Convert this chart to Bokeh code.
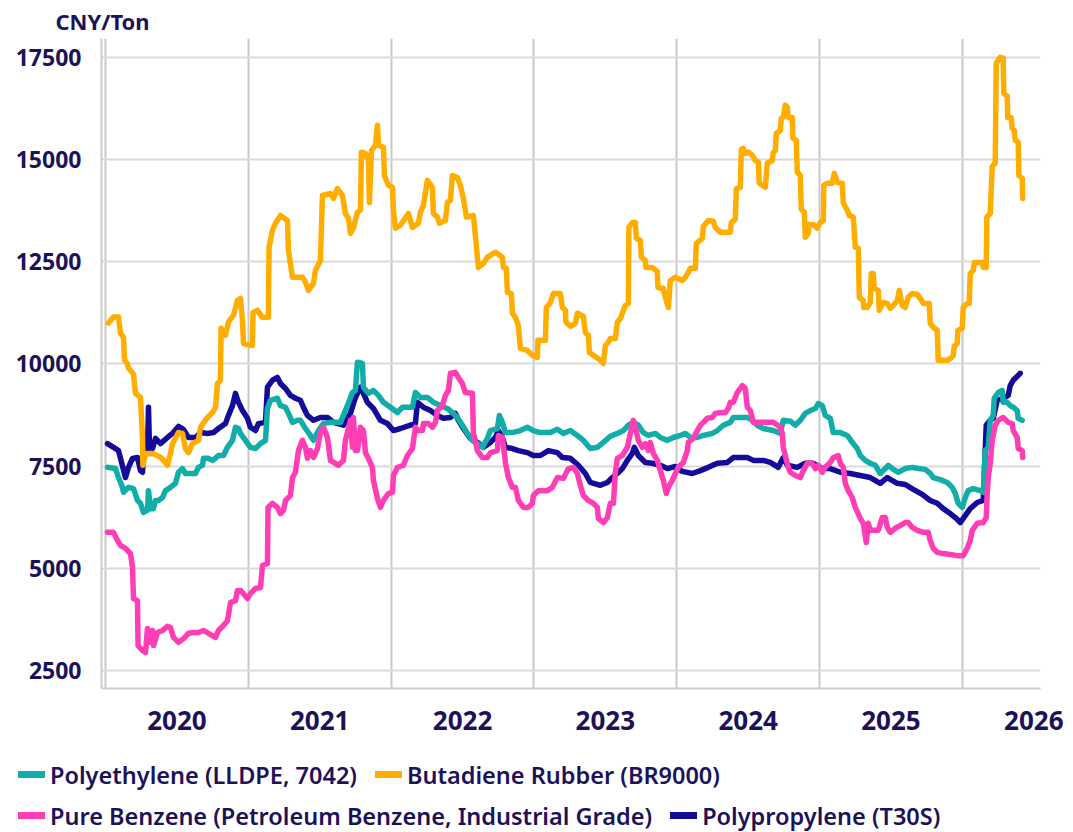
from bokeh.plotting import figure
from bokeh.layouts import column
from bokeh.models import (FixedTicker, PrintfTickFormatter, Range1d, Div)
from bokeh.embed import file_html
from bokeh.resources import INLINE

# ---------------- data (decimal year, CNY/Ton) ----------------
pe_t = [2019.514, 2019.570, 2019.591, 2019.619, 2019.626, 2019.661, 2019.696, 2019.724, 2019.745, 2019.766,
        2019.794, 2019.801, 2019.815, 2019.836, 2019.850, 2019.871, 2019.899, 2019.920, 2019.955, 2019.990,
        2020.011, 2020.039, 2020.060, 2020.130, 2020.151, 2020.179, 2020.186, 2020.221, 2020.249, 2020.270,
        2020.291, 2020.326, 2020.354, 2020.389, 2020.410, 2020.431, 2020.445, 2020.480, 2020.515, 2020.550,
        2020.585, 2020.620, 2020.634, 2020.655, 2020.704, 2020.725, 2020.760, 2020.781, 2020.809, 2020.844,
        2020.865, 2020.900, 2020.935, 2020.956, 2020.991, 2021.026, 2021.075, 2021.145, 2021.194, 2021.229,
        2021.250, 2021.264, 2021.299, 2021.306, 2021.341, 2021.376, 2021.411, 2021.446, 2021.495, 2021.544,
        2021.579, 2021.649, 2021.670, 2021.705, 2021.754, 2021.796, 2021.845, 2021.894, 2021.929, 2021.964,
        2021.999, 2022.034, 2022.069, 2022.104, 2022.139, 2022.174, 2022.195, 2022.244, 2022.258, 2022.279,
        2022.300, 2022.349, 2022.405, 2022.454, 2022.496, 2022.545, 2022.615, 2022.664, 2022.706, 2022.755,
        2022.804, 2022.846, 2022.895, 2022.944, 2022.986, 2023.035, 2023.084, 2023.126, 2023.161, 2023.196,
        2023.231, 2023.266, 2023.301, 2023.350, 2023.385, 2023.434, 2023.476, 2023.525, 2023.560, 2023.595,
        2023.644, 2023.686, 2023.749, 2023.784, 2023.826, 2023.875, 2023.896, 2023.994, 2024.029, 2024.064,
        2024.106, 2024.176, 2024.225, 2024.246, 2024.295, 2024.330, 2024.365, 2024.400, 2024.435, 2024.470,
        2024.491, 2024.519, 2024.540, 2024.575, 2024.596, 2024.645, 2024.694, 2024.729, 2024.764, 2024.785,
        2024.820, 2024.855, 2024.890, 2024.925, 2024.960, 2024.981, 2025.016, 2025.051, 2025.100, 2025.149,
        2025.191, 2025.240, 2025.275, 2025.296, 2025.345, 2025.394, 2025.429, 2025.450, 2025.471, 2025.499,
        2025.520, 2025.541, 2025.576, 2025.625, 2025.646, 2025.660, 2025.681, 2025.695, 2025.716, 2025.723,
        2025.751, 2025.779, 2025.786, 2025.814, 2025.835, 2025.856, 2025.884, 2025.891, 2025.919]
pe_v = [7470, 7440, 7220, 6980, 6860, 6980, 6950, 6660, 6590, 6370,
        6420, 6900, 6460, 6460, 6660, 6660, 6730, 6900, 6980, 7080,
        7350, 7440, 7320, 7320, 7470, 7520, 7690, 7690, 7640, 7690,
        7760, 7760, 7960, 8130, 8450, 8420, 8300, 8130, 7960, 7930,
        8050, 8130, 8910, 9110, 9160, 8980, 8940, 8790, 8570, 8620,
        8620, 8420, 8250, 8130, 8370, 8540, 8570, 8570, 8980, 9300,
        9350, 10040, 10010, 9430, 9280, 9350, 9230, 9060, 8940, 8810,
        8940, 8940, 9300, 9180, 9180, 9060, 8980, 8910, 8810, 8690,
        8500, 8300, 8130, 8050, 7960, 8180, 8370, 8420, 8740, 8570,
        8320, 8320, 8370, 8450, 8370, 8320, 8320, 8400, 8300, 8370,
        8250, 8130, 7930, 7960, 8080, 8230, 8300, 8370, 8500, 8570,
        8500, 8320, 8250, 8300, 8200, 8130, 8200, 8250, 8300, 8200,
        8200, 8250, 8300, 8370, 8500, 8570, 8690, 8690, 8620, 8500,
        8420, 8370, 8300, 8620, 8600, 8500, 8620, 8790, 8860, 8910,
        9030, 8980, 8740, 8670, 8320, 8320, 8250, 8080, 7930, 7760,
        7640, 7570, 7520, 7320, 7440, 7520, 7420, 7350, 7440, 7470,
        7440, 7420, 7320, 7220, 7170, 7100, 6980, 6830, 6590, 6490,
        6730, 6900, 6950, 6900, 6860, 7880, 7960, 8620, 8740, 9160,
        9300, 9350, 9060, 9060, 8980, 8940, 8860, 8670, 8620]

br_t = [2019.521, 2019.556, 2019.591, 2019.605, 2019.626, 2019.633, 2019.654, 2019.661, 2019.696, 2019.710,
        2019.745, 2019.759, 2019.762, 2019.780, 2019.836, 2019.885, 2019.906, 2019.934, 2019.955, 2019.969,
        2020.011, 2020.039, 2020.060, 2020.081, 2020.109, 2020.151, 2020.165, 2020.214, 2020.249, 2020.270,
        2020.284, 2020.305, 2020.309, 2020.340, 2020.361, 2020.396, 2020.424, 2020.445, 2020.459, 2020.466,
        2020.529, 2020.533, 2020.564, 2020.599, 2020.641, 2020.645, 2020.669, 2020.690, 2020.725, 2020.774,
        2020.781, 2020.809, 2020.879, 2020.900, 2020.921, 2020.956, 2020.970, 2021.005, 2021.019, 2021.075,
        2021.096, 2021.124, 2021.159, 2021.180, 2021.201, 2021.215, 2021.236, 2021.264, 2021.285, 2021.292,
        2021.320, 2021.341, 2021.348, 2021.362, 2021.390, 2021.404, 2021.411, 2021.446, 2021.453, 2021.481,
        2021.509, 2021.516, 2021.530, 2021.565, 2021.621, 2021.649, 2021.691, 2021.705, 2021.726, 2021.754,
        2021.789, 2021.796, 2021.824, 2021.838, 2021.880, 2021.894, 2021.915, 2021.929, 2021.964, 2021.985,
        2022.006, 2022.027, 2022.076, 2022.090, 2022.111, 2022.146, 2022.174, 2022.230, 2022.279, 2022.286,
        2022.307, 2022.314, 2022.342, 2022.349, 2022.370, 2022.391, 2022.405, 2022.454, 2022.489, 2022.524,
        2022.528, 2022.580, 2022.587, 2022.615, 2022.636, 2022.685, 2022.699, 2022.720, 2022.724, 2022.755,
        2022.790, 2022.804, 2022.846, 2022.860, 2022.881, 2022.888, 2022.916, 2022.965, 2022.986, 2023.000,
        2023.021, 2023.035, 2023.070, 2023.084, 2023.105, 2023.119, 2023.140, 2023.161, 2023.165, 2023.189,
        2023.210, 2023.217, 2023.245, 2023.252, 2023.280, 2023.284, 2023.329, 2023.364, 2023.368, 2023.406,
        2023.420, 2023.441, 2023.455, 2023.490, 2023.539, 2023.560, 2023.581, 2023.595, 2023.630, 2023.637,
        2023.679, 2023.686, 2023.721, 2023.756, 2023.770, 2023.805, 2023.875, 2023.882, 2023.910, 2023.917,
        2023.945, 2023.952, 2023.966, 2023.980, 2024.001, 2024.029, 2024.050, 2024.071, 2024.078, 2024.120,
        2024.134, 2024.169, 2024.176, 2024.190, 2024.197, 2024.225, 2024.232, 2024.246, 2024.260, 2024.274,
        2024.281, 2024.309, 2024.313, 2024.337, 2024.344, 2024.365, 2024.372, 2024.393, 2024.400, 2024.421,
        2024.425, 2024.456, 2024.484, 2024.505, 2024.526, 2024.530, 2024.554, 2024.589, 2024.603, 2024.624,
        2024.659, 2024.666, 2024.694, 2024.708, 2024.736, 2024.750, 2024.771, 2024.778, 2024.806, 2024.810,
        2024.834, 2024.855, 2024.862, 2024.876, 2024.883, 2024.911, 2024.918, 2024.946, 2024.974, 2024.995,
        2025.016, 2025.044, 2025.058, 2025.079, 2025.100, 2025.121, 2025.149, 2025.184, 2025.205, 2025.226,
        2025.268, 2025.275, 2025.303, 2025.324, 2025.331, 2025.394, 2025.415, 2025.436, 2025.443, 2025.464,
        2025.468, 2025.499, 2025.506, 2025.534, 2025.548, 2025.555, 2025.576, 2025.583, 2025.639, 2025.646,
        2025.667, 2025.671, 2025.695, 2025.709, 2025.730, 2025.737, 2025.751, 2025.765, 2025.786, 2025.790,
        2025.814, 2025.818, 2025.842, 2025.849, 2025.863, 2025.870, 2025.891, 2025.895, 2025.919, 2025.922]
br_v = [11000, 11150, 11150, 10750, 10650, 10100, 10000, 9900, 9750, 9280,
        9180, 8200, 7520, 7810, 7800, 7720, 7640, 7520, 7810, 8050,
        8320, 8300, 7930, 7830, 8050, 8130, 8450, 8690, 8810, 8940,
        9520, 9600, 10870, 10700, 11020, 11190, 11550, 11600, 11060, 10500,
        10450, 11260, 11310, 11140, 11140, 12850, 13270, 13440, 13630, 13510,
        12780, 12120, 12120, 12000, 11800, 11970, 12290, 12530, 14120, 14170,
        14050, 14290, 14120, 13680, 13560, 13190, 13320, 13710, 13760, 15180,
        15150, 14980, 13950, 15220, 15340, 15840, 15350, 15300, 14610, 14370,
        14320, 13760, 13320, 13390, 13680, 13340, 13440, 13710, 13880, 14490,
        14320, 13680, 13590, 13440, 13510, 13950, 14000, 14610, 14560, 14370,
        14050, 13590, 13630, 13140, 12360, 12460, 12610, 12730, 12610, 12360,
        12340, 11750, 11720, 11240, 11140, 10940, 10380, 10330, 10210, 10160,
        10580, 10580, 11380, 11500, 11720, 11720, 11380, 11310, 11020, 10920,
        10990, 11240, 11160, 10770, 10700, 10280, 10210, 10090, 10010, 10450,
        10530, 10620, 10620, 11020, 11110, 11240, 11430, 11480, 13340, 13460,
        13460, 13070, 13020, 12610, 12530, 12360, 12360, 12260, 11870, 11850,
        11630, 11380, 12040, 12120, 12040, 12120, 12240, 12340, 12340, 12950,
        13070, 13360, 13510, 13490, 13340, 13220, 13220, 13460, 13540, 14290,
        14320, 15250, 15270, 15150, 15180, 15100, 14980, 14930, 14420, 14320,
        14910, 14980, 15180, 15220, 15640, 15710, 16010, 16030, 16330, 16280,
        16030, 16030, 15520, 15470, 14690, 14610, 13780, 13710, 13100, 13190,
        13410, 13410, 13320, 13460, 13510, 14370, 14420, 14420, 14660, 14440,
        14420, 13930, 13760, 13630, 13590, 12850, 12830, 11630, 11550, 11380,
        11380, 11500, 12210, 12210, 11850, 11800, 11310, 11500, 11480, 11360,
        11430, 11550, 11800, 11430, 11380, 11630, 11720, 11700, 11600, 11480,
        11480, 10990, 10870, 10820, 10090, 10090, 10130, 10210, 10430, 10500,
        10820, 10870, 11380, 11480, 11480, 12210, 12290, 12480, 12480, 12360,
        12360, 13590, 13680, 14830, 14910, 17350, 17430, 17500, 17480, 16620,
        16550, 16030, 16030, 15760, 15710, 15470, 15420, 14610, 14540, 14050]

bz_t = [2019.514, 2019.556, 2019.584, 2019.605, 2019.640, 2019.675, 2019.689, 2019.696, 2019.724, 2019.728,
        2019.759, 2019.780, 2019.794, 2019.815, 2019.829, 2019.836, 2019.864, 2019.899, 2019.934, 2019.955,
        2019.976, 2020.011, 2020.046, 2020.081, 2020.116, 2020.151, 2020.186, 2020.221, 2020.270, 2020.291,
        2020.326, 2020.354, 2020.375, 2020.410, 2020.424, 2020.445, 2020.466, 2020.494, 2020.515, 2020.550,
        2020.585, 2020.599, 2020.634, 2020.638, 2020.669, 2020.704, 2020.725, 2020.746, 2020.760, 2020.795,
        2020.809, 2020.830, 2020.851, 2020.879, 2020.900, 2020.914, 2020.935, 2020.956, 2020.984, 2021.005,
        2021.026, 2021.054, 2021.075, 2021.131, 2021.166, 2021.180, 2021.215, 2021.229, 2021.236, 2021.250,
        2021.264, 2021.285, 2021.306, 2021.320, 2021.341, 2021.369, 2021.376, 2021.404, 2021.425, 2021.446,
        2021.481, 2021.509, 2021.516, 2021.544, 2021.586, 2021.614, 2021.649, 2021.670, 2021.691, 2021.719,
        2021.726, 2021.761, 2021.789, 2021.810, 2021.824, 2021.859, 2021.880, 2021.901, 2021.915, 2021.950,
        2021.971, 2021.999, 2022.020, 2022.069, 2022.076, 2022.104, 2022.139, 2022.174, 2022.195, 2022.244,
        2022.251, 2022.279, 2022.300, 2022.321, 2022.349, 2022.370, 2022.391, 2022.426, 2022.461, 2022.489,
        2022.496, 2022.531, 2022.594, 2022.629, 2022.664, 2022.706, 2022.741, 2022.776, 2022.804, 2022.825,
        2022.846, 2022.881, 2022.916, 2022.944, 2022.951, 2022.986, 2023.014, 2023.035, 2023.056, 2023.070,
        2023.084, 2023.119, 2023.154, 2023.175, 2023.196, 2023.210, 2023.231, 2023.259, 2023.280, 2023.301,
        2023.315, 2023.336, 2023.364, 2023.385, 2023.406, 2023.427, 2023.441, 2023.469, 2023.490, 2023.511,
        2023.546, 2023.574, 2023.581, 2023.616, 2023.644, 2023.665, 2023.686, 2023.714, 2023.749, 2023.770,
        2023.805, 2023.840, 2023.861, 2023.875, 2023.896, 2023.924, 2023.959, 2023.980, 2023.994, 2024.015,
        2024.036, 2024.176, 2024.225, 2024.239, 2024.246, 2024.260, 2024.281, 2024.295, 2024.330, 2024.365,
        2024.386, 2024.414, 2024.449, 2024.470, 2024.491, 2024.519, 2024.540, 2024.575, 2024.596, 2024.631,
        2024.645, 2024.666, 2024.680, 2024.701, 2024.729, 2024.750, 2024.785, 2024.806, 2024.827, 2024.841,
        2024.855, 2024.911, 2024.939, 2024.960, 2024.974, 2024.995, 2025.030, 2025.065, 2025.100, 2025.121,
        2025.149, 2025.184, 2025.226, 2025.261, 2025.275, 2025.296, 2025.324, 2025.366, 2025.415, 2025.464,
        2025.506, 2025.534, 2025.555, 2025.569, 2025.604, 2025.646, 2025.667, 2025.674, 2025.681, 2025.695,
        2025.709, 2025.730, 2025.751, 2025.786, 2025.821, 2025.849, 2025.856, 2025.884, 2025.891, 2025.919,
        2025.922]
bz_v = [5880, 5880, 5680, 5560, 5490, 5360, 5020, 4260, 4210, 3110,
        2990, 2940, 3530, 3190, 3480, 3110, 3430, 3480, 3580, 3550,
        3310, 3190, 3280, 3410, 3430, 3430, 3480, 3410, 3310, 3480,
        3600, 3720, 4160, 4210, 4460, 4460, 4380, 4260, 4380, 4510,
        4530, 5070, 5120, 6490, 6590, 6490, 6340, 6420, 6660, 6780,
        7220, 7350, 7880, 8130, 7960, 7690, 7880, 7710, 7930, 8320,
        8450, 8200, 7640, 7520, 7640, 8130, 8620, 7960, 8690, 7880,
        7880, 8450, 8370, 7830, 7690, 7470, 7150, 6710, 6490, 6660,
        6830, 6860, 7270, 7470, 7520, 7760, 7930, 8450, 8370, 8370,
        8540, 8540, 8450, 8570, 8860, 8980, 9230, 9350, 9770, 9790,
        9670, 9520, 9300, 9280, 8320, 7880, 7710, 7710, 7830, 7880,
        8250, 8200, 7590, 7220, 6980, 6980, 6660, 6490, 6490, 6590,
        6780, 6900, 6900, 6980, 7220, 7200, 7440, 7470, 7320, 7030,
        6780, 6660, 6590, 6490, 6220, 6120, 6240, 6590, 6590, 7350,
        7690, 7760, 7960, 8300, 8620, 8450, 8130, 7960, 8050, 7880,
        8080, 7810, 7640, 7390, 7150, 6830, 6980, 7150, 7320, 7470,
        7590, 7880, 8080, 8180, 8370, 8500, 8570, 8670, 8690, 8790,
        8810, 8810, 8910, 9060, 9060, 9300, 9470, 9400, 8940, 8860,
        8570, 8570, 8450, 8300, 7960, 7760, 7470, 7350, 7270, 7220,
        7390, 7570, 7570, 7440, 7520, 7350, 7470, 7590, 7710, 7760,
        7570, 7470, 7080, 6900, 6730, 6490, 6220, 6100, 5630, 6100,
        5930, 5930, 6240, 6240, 6000, 5880, 5980, 6050, 6120, 6120,
        6000, 5930, 5880, 5880, 5680, 5490, 5390, 5360, 5340, 5310,
        5310, 5490, 5680, 5930, 6100, 6120, 6240, 6860, 7220, 7570,
        8130, 8500, 8620, 8690, 8570, 8540, 8370, 8200, 7930, 7880,
        7710]

pp_t = [2019.514, 2019.556, 2019.591, 2019.640, 2019.661, 2019.689, 2019.724, 2019.745, 2019.759, 2019.766,
        2019.794, 2019.801, 2019.808, 2019.829, 2019.850, 2019.885, 2019.934, 2019.969, 2020.011, 2020.046,
        2020.081, 2020.130, 2020.165, 2020.214, 2020.256, 2020.291, 2020.340, 2020.361, 2020.389, 2020.410,
        2020.431, 2020.459, 2020.494, 2020.515, 2020.550, 2020.571, 2020.620, 2020.634, 2020.669, 2020.704,
        2020.725, 2020.760, 2020.795, 2020.830, 2020.865, 2020.886, 2020.914, 2020.956, 2021.005, 2021.054,
        2021.096, 2021.166, 2021.215, 2021.250, 2021.285, 2021.306, 2021.334, 2021.376, 2021.425, 2021.474,
        2021.516, 2021.565, 2021.635, 2021.670, 2021.684, 2021.726, 2021.775, 2021.824, 2021.866, 2021.915,
        2021.950, 2021.971, 2022.006, 2022.055, 2022.104, 2022.146, 2022.195, 2022.230, 2022.251, 2022.279,
        2022.300, 2022.349, 2022.391, 2022.454, 2022.496, 2022.545, 2022.601, 2022.664, 2022.699, 2022.755,
        2022.811, 2022.860, 2022.895, 2022.965, 2023.014, 2023.049, 2023.084, 2023.119, 2023.154, 2023.189,
        2023.203, 2023.231, 2023.280, 2023.329, 2023.385, 2023.434, 2023.490, 2023.539, 2023.609, 2023.665,
        2023.721, 2023.784, 2023.854, 2023.896, 2023.994, 2024.036, 2024.106, 2024.155, 2024.211, 2024.246,
        2024.274, 2024.344, 2024.400, 2024.456, 2024.519, 2024.575, 2024.645, 2024.715, 2024.785, 2024.855,
        2024.925, 2024.974, 2025.044, 2025.100, 2025.156, 2025.219, 2025.275, 2025.324, 2025.366, 2025.415,
        2025.457, 2025.485, 2025.520, 2025.555, 2025.604, 2025.646, 2025.667, 2025.695, 2025.716, 2025.744,
        2025.786, 2025.821, 2025.835, 2025.856, 2025.905]
pp_v = [8050, 7960, 7880, 7220, 7470, 7690, 7710, 7390, 7350, 7760,
        7880, 8940, 7960, 7930, 8180, 8050, 8200, 8300, 8470, 8400,
        8200, 8200, 8320, 8300, 8320, 8420, 8540, 8740, 8980, 9280,
        9060, 8860, 8670, 8450, 8370, 8540, 8570, 9430, 9600, 9670,
        9520, 9400, 9230, 9160, 9110, 8940, 8740, 8620, 8690, 8690,
        8570, 8500, 8790, 9180, 9430, 9280, 9060, 8910, 8620, 8540,
        8370, 8420, 8500, 8540, 9060, 8940, 8860, 8740, 8670, 8690,
        8790, 8620, 8420, 8180, 8080, 7960, 8080, 8200, 8370, 8200,
        7960, 7930, 7880, 7830, 7760, 7760, 7880, 7830, 7710, 7690,
        7520, 7320, 7100, 7030, 7100, 7220, 7320, 7440, 7640, 7810,
        7960, 7760, 7590, 7570, 7520, 7440, 7490, 7370, 7320, 7390,
        7470, 7570, 7590, 7710, 7710, 7640, 7640, 7590, 7470, 7710,
        7520, 7470, 7570, 7570, 7440, 7440, 7350, 7320, 7270, 7220,
        7080, 7220, 7080, 7050, 6930, 6810, 6660, 6590, 6460, 6340,
        6220, 6120, 6290, 6460, 6610, 6660, 8500, 8620, 8670, 9110,
        9160, 9230, 9470, 9600, 9770]

names = ["Polyethylene (LLDPE, 7042)", "Butadiene Rubber (BR9000)",
         "Pure Benzene (Petroleum Benzene, Industrial Grade)", "Polypropylene (T30S)"]
colors = ["#12ADA8", "#FFAE00", "#FF3DB5", "#150B9B"]

year_ticks = [2020, 2021, 2022, 2023, 2024, 2025, 2026]
year_grid = [2019.5, 2020.5, 2021.5, 2022.5, 2023.5, 2024.5, 2025.5]
value_ticks = [2500, 5000, 7500, 10000, 12500, 15000, 17500]

# ---------------- main figure ----------------
TXT = "#1C1259"
FONT = "Noto Sans"
W = 1065
H = 755

p = figure(output_backend="svg", toolbar_location=None, width=W, height=H,
           x_range=Range1d(2019.472, 2026.047), y_range=Range1d(2060, 17960),
           min_border_left=101, min_border_right=25, min_border_top=38, min_border_bottom=67,
           background_fill_color="white", border_fill_color="white", outline_line_color=None)

p.title.text = "CNY/Ton"
p.title.align = "left"
p.title.offset = -46
p.title.text_font = FONT
p.title.text_font_size = "22px"
p.title.text_font_style = "bold"
p.title.text_color = TXT
p.title.standoff = 6

p.xaxis.ticker = FixedTicker(ticks=year_ticks)
p.xaxis.formatter = PrintfTickFormatter(format="%d")
p.yaxis.ticker = FixedTicker(ticks=value_ticks)
p.yaxis.formatter = PrintfTickFormatter(format="%d")
for ax in (p.xaxis[0], p.yaxis[0]):
    ax.axis_line_color = "#CCCCCC"
    ax.axis_line_width = 2
    ax.major_tick_line_color = None
    ax.minor_tick_line_color = None
    ax.major_tick_out = 0
    ax.major_tick_in = 0
    ax.major_label_text_font = FONT
    ax.major_label_text_font_style = "bold"
    ax.major_label_text_color = TXT
p.xaxis.major_label_text_font_size = "26px"
p.yaxis.major_label_text_font_size = "23px"
p.xaxis.major_label_standoff = 22
p.yaxis.major_label_standoff = 20

p.xgrid.ticker = FixedTicker(ticks=year_grid)
p.xgrid.grid_line_color = "#C8C8C8"
p.xgrid.grid_line_width = 2
p.ygrid.ticker = FixedTicker(ticks=value_ticks)
p.ygrid.grid_line_color = "#DADADA"
p.ygrid.grid_line_width = 2

# lines (draw order: PP, PE, BR, Benzene)
kw = dict(line_width=5.5, line_join="round", line_cap="round")
p.line(pp_t, pp_v, line_color=colors[3], **kw)
p.line(pe_t, pe_v, line_color=colors[0], **kw)
p.line(br_t, br_v, line_color=colors[1], **kw)
p.line(bz_t, bz_v, line_color=colors[2], **kw)

# ---------------- legend (two wrapped rows, as in the reference) ----------------
def item(color, label, first):
    gap = "" if first else "margin-left:18px;"
    return (f'<span style="{gap}display:inline-block;width:27px;height:7px;background:{color};'
            f'vertical-align:middle;margin-right:5px;"></span>'
            f'<span style="vertical-align:middle;">{label}</span>')

rows = [(0, 1), (2, 3)]
html = (f'<div style="font-family:\'{FONT}\';font-size:23.5px;font-weight:600;color:{TXT};'
        f'line-height:30px;padding-left:18px;padding-top:2px;white-space:nowrap;">')
for i, (a, b) in enumerate(rows):
    mt = "0" if i == 0 else "11px"
    html += (f'<div style="margin-top:{mt};height:30px;">' + item(colors[a], names[a], True)
             + item(colors[b], names[b], False) + "</div>")
html += "</div>"

legend_div = Div(text=html, width=W, height=832 - H, margin=(0, 0, 0, 0),
                 styles={"overflow": "visible"})

layout = column(p, legend_div, spacing=0)
open("out.html", "w").write(file_html(layout, INLINE))
